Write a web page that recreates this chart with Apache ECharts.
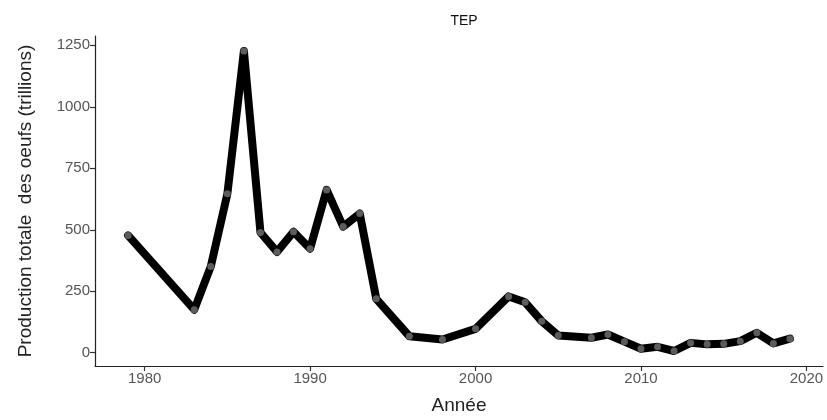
<!DOCTYPE html>
<html>
<head>
<meta charset="utf-8">
<script src="https://cdn.jsdelivr.net/npm/echarts@6/dist/echarts.min.js"></script>
<style>
  html, body { margin: 0; padding: 0; background: #fff; }
  #chart { width: 827px; height: 420px; }
</style>
</head>
<body>
<div id="chart"></div>
<script>
// annees et production totale des oeufs (trillions)
const years = [1979, 1983, 1984, 1985, 1986, 1987, 1988, 1989, 1990, 1991, 1992, 1993, 1994,
  1996, 1998, 2000, 2002, 2003, 2004, 2005, 2007, 2008, 2009, 2010, 2011, 2012, 2013,
  2014, 2015, 2016, 2017, 2018, 2019];
const production = [477, 175, 351, 646, 1227, 489, 410, 492, 423, 662, 513, 566, 219,
  67, 54, 97, 229, 205, 128, 70, 61, 74, 45, 16, 24, 7, 40, 34, 36, 47, 81, 38, 57];
const xTicks = [1980, 1990, 2000, 2010, 2020];
const yTicks = [0, 250, 500, 750, 1000, 1250];

const chart = echarts.init(document.getElementById('chart'));
const font = 'Liberation Sans, Arial, sans-serif';

chart.setOption({
  animation: false,
  backgroundColor: '#fff',
  title: {
    text: 'TEP',
    left: 459,
    top: 9,
    textAlign: 'center',
    textStyle: { fontFamily: font, fontSize: 14, fontWeight: 'normal', color: '#111' }
  },
  grid: { left: 95, right: 4, top: 36, bottom: 53 },
  xAxis: {
    type: 'value',
    min: 1977,
    max: 2021,
    name: 'Année',
    nameLocation: 'middle',
    nameGap: 30,
    nameTextStyle: { fontFamily: font, fontSize: 19, color: '#222' },
    splitLine: { show: false },
    axisLine: { show: true, onZero: false, lineStyle: { color: '#222', width: 1.2 } },
    axisTick: { show: true, length: 5, customValues: xTicks, lineStyle: { color: '#333', width: 1.2 } },
    axisLabel: {
      customValues: xTicks, margin: 5,
      formatter: v => String(v),
      fontFamily: font, fontSize: 15, color: '#555'
    }
  },
  yAxis: {
    type: 'value',
    min: -54,
    max: 1288,
    name: 'Production totale  des oeufs (trillions)',
    nameLocation: 'middle',
    nameRotate: 90,
    nameGap: 60,
    nameTextStyle: { fontFamily: font, fontSize: 19, color: '#222' },
    splitLine: { show: false },
    axisLine: { show: true, onZero: false, lineStyle: { color: '#222', width: 1.2 } },
    axisTick: { show: true, length: 5, customValues: yTicks, lineStyle: { color: '#333', width: 1.2 } },
    axisLabel: {
      customValues: yTicks, margin: 5,
      formatter: v => String(v),
      fontFamily: font, fontSize: 15, color: '#555'
    }
  },
  series: [{
    type: 'line',
    data: years.map((y, i) => [y, production[i]]),
    symbol: 'circle',
    symbolSize: 7,
    showAllSymbol: true,
    itemStyle: { color: '#5c5c5c', borderWidth: 0 },
    lineStyle: { color: '#000', width: 8, cap: 'round', join: 'round' },
    emphasis: { disabled: true }
  }]
});
</script>
</body>
</html>
